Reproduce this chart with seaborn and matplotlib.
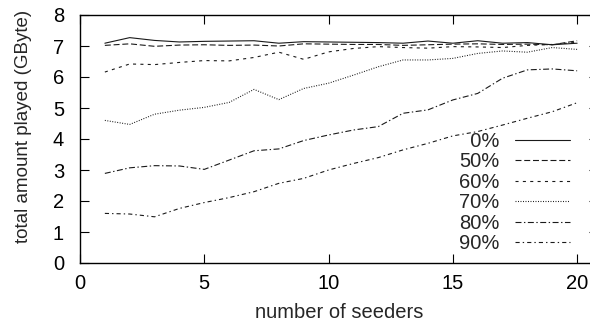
import matplotlib as mpl
import matplotlib.pyplot as plt
import pandas as pd
import seaborn as sns

sns.set_style("ticks")
mpl.rcParams.update(
    {
        "font.family": ["Liberation Sans", "DejaVu Sans"],
        "font.size": 14.5,
        "lines.scale_dashes": False,
        "axes.linewidth": 1.0,
        "xtick.direction": "in",
        "ytick.direction": "in",
    }
)

seeders = list(range(1, 21))
pct_0 = [7.09, 7.27, 7.18, 7.13, 7.15, 7.16, 7.17, 7.09, 7.14, 7.13,
         7.12, 7.11, 7.09, 7.16, 7.09, 7.17, 7.09, 7.11, 7.04, 7.09]
pct_50 = [7.02, 7.07, 6.99, 7.03, 7.04, 7.02, 7.03, 7.00, 7.07, 7.06,
          7.05, 7.05, 7.02, 7.04, 7.06, 7.07, 7.05, 7.06, 7.04, 7.17]
pct_60 = [6.16, 6.42, 6.40, 6.47, 6.53, 6.52, 6.63, 6.80, 6.57, 6.81,
          6.92, 6.98, 6.95, 6.93, 6.98, 6.97, 6.95, 7.02, 7.05, 7.12]
pct_70 = [4.60, 4.47, 4.80, 4.93, 5.02, 5.18, 5.60, 5.27, 5.63, 5.80,
          6.06, 6.33, 6.55, 6.55, 6.60, 6.76, 6.84, 6.80, 6.95, 6.89]
pct_80 = [2.89, 3.07, 3.14, 3.13, 3.02, 3.32, 3.62, 3.68, 3.95, 4.13,
          4.29, 4.40, 4.83, 4.94, 5.26, 5.47, 5.96, 6.23, 6.26, 6.20]
pct_90 = [1.60, 1.58, 1.49, 1.76, 1.95, 2.11, 2.30, 2.57, 2.73, 3.00,
          3.21, 3.40, 3.65, 3.86, 4.10, 4.24, 4.45, 4.67, 4.88, 5.17]

labels = ["0%", "50%", "60%", "70%", "80%", "90%"]
series = [pct_0, pct_50, pct_60, pct_70, pct_80, pct_90]
styles = ["-", (0, (4.3, 2.0)), (0, (2.2, 3.1)), (0, (0.7, 1.1)),
          (0, (4.3, 1.8, 1.0, 1.8)), (0, (3.0, 2.2, 1.0, 2.2))]

df = pd.DataFrame(
    {
        "seeders": seeders * len(labels),
        "played": [v for s in series for v in s],
        "fraction": [lab for lab in labels for _ in seeders],
    }
)

fig = plt.figure(figsize=(5.9, 3.24), dpi=100)
ax = fig.add_axes([80 / 590, 61 / 324, 518 / 590, 248 / 324])

for lab, ls in zip(labels, styles):
    sub = df[df["fraction"] == lab]
    # pad the short label with a figure space so labels line up on the right
    shown = lab.rjust(3, "\u2007")
    sns.lineplot(data=sub, x="seeders", y="played", color="#1a1a1a",
                 linewidth=0.8, linestyle=ls, label=shown, ax=ax)

ax.set_xlim(0, 20.84)
ax.set_ylim(0, 8)
ax.set_xticks([0, 5, 10, 15, 20])
ax.set_yticks(range(0, 9))
ax.tick_params(top=True, right=True, length=6.5, width=0.8, colors="black")
ax.tick_params(axis="x", pad=8)
ax.tick_params(axis="y", pad=11.5)
for sp in ax.spines.values():
    sp.set_color("black")
ax.set_xlabel("number of seeders", labelpad=7)
ax.set_ylabel("total amount played (GByte)", fontsize=13.5)
ax.yaxis.set_label_coords(-0.093, 0.552)

handles, labs = ax.get_legend_handles_labels()
ax.legend(handles, labs, loc="upper right",
          bbox_to_anchor=(580 / 590, 1 - 122 / 324),
          bbox_transform=fig.transFigure, markerfirst=False,
          frameon=False, borderpad=0, handlelength=2.75,
          handletextpad=0.75, labelspacing=0.07)

fig.savefig("out.png", dpi=100)
